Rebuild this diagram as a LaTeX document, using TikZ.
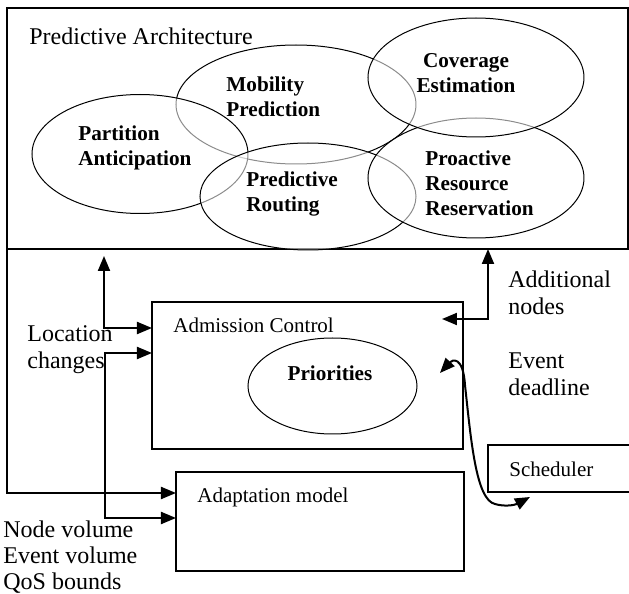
\documentclass[tikz,border=0pt]{standalone}
\usepackage{fontspec}
\setmainfont{Liberation Serif}
\usetikzlibrary{shapes.geometric,arrows.meta}

\tikzset{
  box/.style={draw,line width=1pt,rectangle,anchor=north west,inner sep=0pt,outer sep=0pt},
  oval/.style={draw,line width=0.5pt,ellipse,inner sep=0pt,outer sep=0pt,fill=white,fill opacity=0.55},
  txt/.style={inner sep=0pt,anchor=north west,align=left,font=\fontsize{12}{13.5}\selectfont},
  stxt/.style={txt,font=\fontsize{10.5}{12.5}\selectfont},
  btxt/.style={txt,font=\fontsize{10.6}{12.5}\selectfont\bfseries},
  link/.style={line width=1pt,-{Triangle[length=7.5pt,width=6pt]}},
  links/.style={line width=1pt,{Triangle[length=7.5pt,width=6pt]}-{Triangle[length=7.5pt,width=6pt]}}
}

\begin{document}
\begin{tikzpicture}[x=0.5pt,y=-0.5pt]
\clip (0,0) rectangle (629,594);
% Draw boxes
\node[box,minimum width=310.5pt,minimum height=120.5pt] (pred) at (7,8) {};
\node[box,minimum width=155.5pt,minimum height=73.5pt] (adm) at (152,302) {};
\node[box,minimum width=144pt,minimum height=49.5pt] (adapt) at (176,472) {};
\node[box,minimum width=75pt,minimum height=23.5pt] (sched) at (488,445) {};
% Draw ovals, lowest first
\node[oval,minimum width=120pt,minimum height=59.5pt] (mob) at (296,104.5) {};
\node[oval,minimum width=108pt,minimum height=59.5pt] (part) at (140,154) {};
\node[oval,minimum width=108pt,minimum height=53.5pt] (rout) at (308,196.5) {};
\node[oval,minimum width=108pt,minimum height=60pt] (proa) at (476,178) {};
\node[oval,minimum width=108pt,minimum height=59.5pt] (cov) at (476,77.5) {};
\node[oval,minimum width=84.5pt,minimum height=48pt] (prio) at (332.5,386) {};
% Draw texts
\node[txt] (predt) at (29,27) {Predictive Architecture};
\node[btxt] (partt) at (78,125) {Partition\\Anticipation};
\node[btxt] (mobt) at (226,76) {Mobility\\Prediction};
\node[btxt] (routt) at (246,171) {Predictive\\Routing};
\node[btxt,anchor=north,align=center] (covt) at (466,53) {Coverage\\Estimation};
\node[btxt] (proat) at (425,150) {Proactive\\Resource\\Reservation};
\node[btxt,anchor=north] (priot) at (330,365) {Priorities};
\node[stxt] (admt) at (173,318) {Admission Control};
\node[stxt] (adat) at (197,488) {Adaptation model};
\node[stxt] (scht) at (509,462) {Scheduler};
\node[txt] (loct) at (27,325) {Location\\changes};
\node[txt,font=\fontsize{12}{13}\selectfont] (volt) at (3,520) {Node volume\\Event volume\\QoS bounds};
\node[txt] (addt) at (508,270) {Additional\\nodes};
\node[txt] (evt) at (508,352) {Event\\deadline};
% Connector ends
\coordinate (ad1) at ([yshift=-10.5pt]adapt.north west);
\coordinate (ad2) at ([yshift=-23pt]adapt.north west);
\coordinate (am1) at ([yshift=-13pt]adm.north west);
\coordinate (am2) at ([yshift=-25.5pt]adm.north west);
\coordinate (am3) at ([xshift=-10.5pt,yshift=-8.5pt]adm.north east);
\coordinate (am4) at ([xshift=-11.5pt,yshift=-35.5pt]adm.north east);
\coordinate (up1) at ([xshift=48.5pt,yshift=-3.5pt]pred.south west);
\coordinate (up2) at ([xshift=240.5pt]pred.south west);
\coordinate (sc1) at ([xshift=21pt,yshift=-2.5pt]sched.south west);
% Draw connectors
\draw[link] (pred.south west) |- (ad1);
\draw[links] (am1) -| (up1);
\draw[links] (am2) -- ++(-47,0) |- (ad2);
\draw[links] (am3) -| (up2);
\draw[links] (am4) .. controls (452,360) and (463,355) .. (465,385)
  .. controls (471,440) and (476,500) .. (495,504)
  .. controls (505,507) and (515,505) .. (sc1);
\end{tikzpicture}
\end{document}
